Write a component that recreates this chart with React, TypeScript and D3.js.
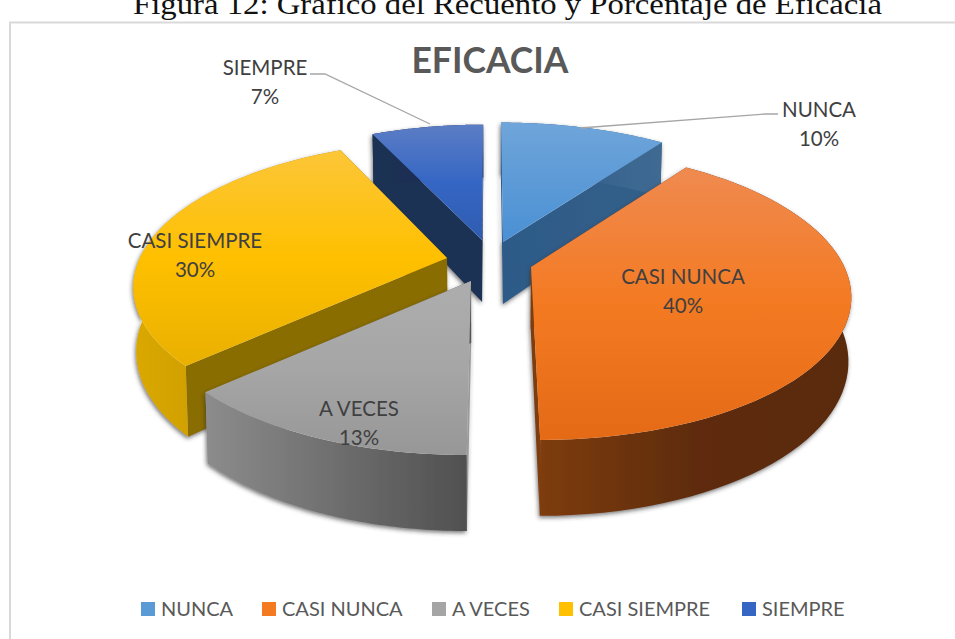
import React from "react";
import * as d3 from "d3";

const categories = ["NUNCA", "CASI NUNCA", "A VECES", "CASI SIEMPRE", "SIEMPRE"];
const values = [10, 40, 13, 30, 7];
const apexX = [503, 531, 471, 447, 482];
const apexY = [242, 267, 281, 258, 240];
const radiusScale = [0.995, 0.995, 1, 0.975, 0.955];
const drawOrder = [4, 0, 3, 2, 1];
const topStops = [
  ["#6fa5da", "#4a90d4"],
  ["#ef8a50", "#f47a22", "#e56a16"],
  ["#adadad", "#a6a6a6", "#979797"],
  ["#fcc638", "#ffc000", "#e9b000"],
  ["#5c7dc5", "#3566c4", "#2f5cb0"],
];
const rimStops = [
  ["#2e5a88", "#3f6a92"],
  ["#7e3c0e", "#5e2c0a", "#5a2a0a"],
  ["#8c8c8c", "#6e6e6e", "#505050"],
  ["#dba800", "#c89a00", "#b08800"],
  ["#1f3154", "#142a50"],
];
const wallStart = ["#2e5a88", "#7e3c0e", "#9a9a9a", "#8a6d00", "#1f3154"];
const wallEnd = ["#336089", "#7e3c0e", "#555555", "#8a6d00", "#132850"];
const legendColors = ["#5b9bd5", "#f47a22", "#a5a5a5", "#ffc000", "#3566c4"];
const labelX = [819, 683, 359, 195, 265];
const labelY = [117, 284, 416, 248, 75];
const legendX = [141, 262, 432, 559, 742];
const stripX = [498, 526, 474, 486];
const stripTop = [180, 327, 345, 180];
const stripSlice = [0, 1, 2, 4];

const RX = 315, RY = 142, PERSP = 0.184, VX = 490, DEPTH = 62;
const pieGen = d3.pie<number>().sort(null).startAngle(0).endAngle(2 * Math.PI);
const arcs = pieGen(values);

function project(i: number, a: number, r: number, z: number): [number, number] {
  const q = r * radiusScale[i];
  const u = Math.sin(a) * q;
  const v = -Math.cos(a) * q;
  const s = 1 / (1 - PERSP * v);
  const zs = 1 - 0.008 * z;
  return [VX + (apexX[i] - VX + RX * u) * s * zs, apexY[i] + (RY * v + DEPTH * z) * s];
}
const line = d3.line();

function Grad({ id, stops, horizontal }: { id: string; stops: string[]; horizontal?: boolean }) {
  return (
    <linearGradient id={id} x1="0" y1="0" x2={horizontal ? 1 : 0} y2={horizontal ? 0 : 1}>
      {stops.map((c, k) => (
        <stop key={k} offset={k / (stops.length - 1)} stopColor={c} />
      ))}
    </linearGradient>
  );
}

function Slice({ i }: { i: number }) {
  const { startAngle: a0, endAngle: a1 } = arcs[i];
  const n = 60;
  const angles = d3.range(n + 1).map((k) => a0 + ((a1 - a0) * k) / n);
  const top = angles.map((a) => project(i, a, 1, 0));
  const bottom = angles.map((a) => project(i, a, 1, 1));
  const apexT = project(i, 0, 0, 0);
  const apexB = project(i, 0, 0, 1);
  const topPath = line([apexT, ...top])! + "Z";
  const rimPath = line([...top, ...bottom.slice().reverse()])! + "Z";
  const wall0 = line([apexT, top[0], bottom[0], apexB])! + "Z";
  const wall1 = line([apexT, top[n], bottom[n], apexB])! + "Z";
  return (
    <g>
      <g filter="url(#drop)">
        <path d={wall0} fill={wallStart[i]} />
        <path d={wall1} fill={`url(#wall${i})`} />
        <path d={rimPath} fill={`url(#rim${i})`} />
      </g>
      <path d={topPath} fill={`url(#top${i})`} />
    </g>
  );
}

export default function App() {
  const textFont = "Lato, Carlito, sans-serif";
  return (
    <svg width={955} height={639} style={{ position: "fixed", left: 0, top: 0, background: "#fff" }}>
      <defs>
        {categories.map((_, i) => (
          <React.Fragment key={i}>
            <Grad id={`top${i}`} stops={topStops[i]} />
            <Grad id={`rim${i}`} stops={rimStops[i]} horizontal />
            <Grad id={`wall${i}`} stops={[wallStart[i], wallEnd[i]]} horizontal />
          </React.Fragment>
        ))}
        <filter id="soft" x="-300%" y="-20%" width="700%" height="140%">
          <feGaussianBlur stdDeviation="1.4" />
        </filter>
        <filter id="drop" x="-10%" y="-10%" width="120%" height="125%">
          <feDropShadow dx="-1" dy="2" stdDeviation="2" floodColor="#333" floodOpacity="0.65" />
        </filter>
      </defs>
      <text
        x={507.5}
        y={14}
        textAnchor="middle"
        fontFamily="'Liberation Serif', serif"
        fontSize={29}
        textLength={749}
        lengthAdjust="spacingAndGlyphs"
        fill="#111"
      >
        Figura 12:   Gráfico del Recuento y Porcentaje de Eficacia
      </text>
      <rect x={10} y={22.5} width={960} height={640} fill="#fff" stroke="#d9d9d9" strokeWidth={2} />
      <text x={490} y={73} textAnchor="middle" fontFamily={textFont} fontWeight={700} fontSize={35.5} fill="#595959">
        EFICACIA
      </text>
      {stripX.map((x, k) => (
        <path
          key={k}
          d={`M${x},${stripTop[k]}V${project(stripSlice[k], k === 2 || k === 1 ? Math.PI : 0, k === 2 || k === 1 ? 1 : 0, 1)[1]}`}
          stroke="#333"
          strokeWidth={6}
          filter="url(#soft)"
          fill="none"
        />
      ))}
      {drawOrder.map((i) => (
        <Slice key={i} i={i} />
      ))}
      <polyline points="310,74 325,74 430,124" fill="none" stroke="#a6a6a6" strokeWidth={1.3} />
      <polyline points="580,128 765,114 778,114" fill="none" stroke="#a6a6a6" strokeWidth={1.3} />
      {categories.map((c, i) => (
        <text key={c} textAnchor="middle" fontFamily={textFont} fontSize={20.5} fill="#404040">
          <tspan x={labelX[i]} y={labelY[i]}>{c}</tspan>
          <tspan x={labelX[i]} y={labelY[i] + 29}>{values[i]}%</tspan>
        </text>
      ))}
      {categories.map((c, i) => (
        <g key={c}>
          <rect x={legendX[i]} y={602} width={14} height={14} fill={legendColors[i]} />
          <text x={legendX[i] + 20} y={616} fontFamily={textFont} fontSize={20} fill="#595959">{c}</text>
        </g>
      ))}
    </svg>
  );
}
